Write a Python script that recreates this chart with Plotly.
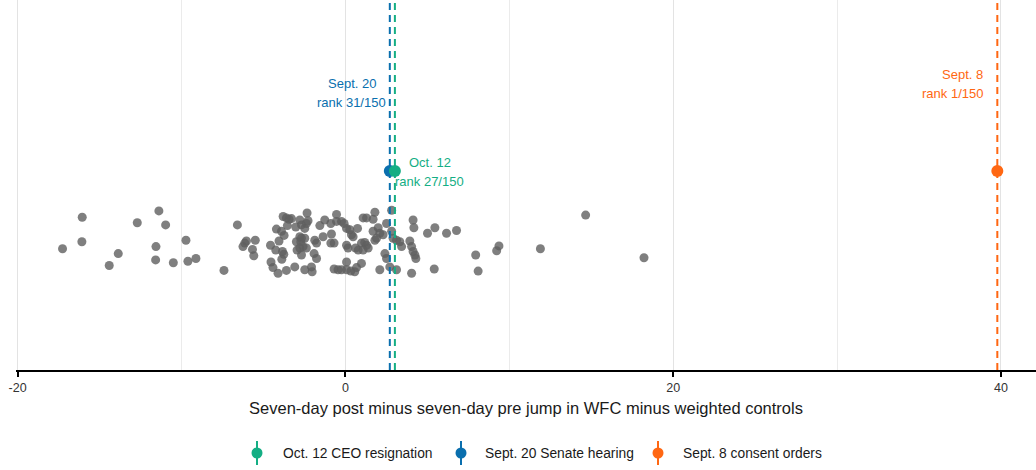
import plotly.graph_objects as go

# Gray events: x = seven-day jump, y = vertical jitter (arbitrary units)
other_x = [-17.26, -16.06, -16.08, -14.41, -13.86, -12.70, -11.38, -10.97, -11.56, -11.58,
           -10.50, -9.73, -9.61, -9.12, -7.41, -6.59, -6.04, -6.14, -6.25, -5.50,
           -5.67, -5.59, -4.57, -4.21, -3.90, -4.25, -4.05, -3.74, -3.80, -3.60,
           -3.44, -3.29, -3.54, -3.84, -3.76, -3.88, -4.54, -4.42, -4.11, -3.60,
           -3.09, -2.99, -2.95, -3.03, -2.34, -2.78, -2.68, -2.48, -2.38, -2.28,
           -2.78, -2.68, -2.72, -2.48, -2.78, -2.58, -2.38, -2.68, -2.48, -2.07,
           -2.03, -1.87, -1.76, -1.91, -1.76, -1.56, -1.26, -0.89, -0.54, -0.54,
           -0.24, -0.08, -1.36, -0.85, -0.89, -0.69, 0.07, 0.16, 0.27, 0.37,
           0.47, 0.74, 0.62, 0.78, 0.98, 1.08, 0.07, -0.69, -0.45, -0.24,
           0.07, 0.33, 0.57, 0.68, 1.29, 1.69, 1.80, 2.51, 2.82, 2.00,
           1.69, 2.10, 2.30, 1.90, 1.80, 2.82, 1.18, 1.29, 1.39, 1.08,
           2.91, 3.12, 3.32, 3.43, 2.41, 2.51, 3.93, 4.04, 4.13, 4.24,
           4.30, 4.13, 4.18, 0.98, 2.10, 3.12, 4.04, 2.71, 5.01, 5.46,
           6.17, 6.78, 7.95, 8.10, 5.42, 9.23, 9.37, 11.90, 14.66, 18.22,
           0.07]
other_y = [-0.11, 0.34, -0.01, -0.35, -0.18, 0.26, 0.43, 0.23, -0.08, -0.27,
           -0.31, 0.01, -0.29, -0.25, -0.42, 0.23, 0.00, -0.03, -0.08, 0.01,
           -0.12, -0.21, -0.06, 0.17, 0.14, -0.13, 0.00, 0.08, 0.35, 0.33,
           0.31, 0.32, 0.22, -0.15, -0.19, -0.26, -0.30, -0.38, -0.46, -0.42,
           -0.37, -0.01, -0.13, 0.20, 0.40, 0.30, 0.23, 0.18, 0.25, 0.29,
           0.06, 0.04, -0.01, 0.04, -0.10, -0.08, -0.10, -0.20, -0.41, -0.37,
           -0.44, 0.01, -0.03, -0.18, -0.25, 0.22, 0.30, 0.25, 0.38, 0.28,
           0.28, 0.25, 0.06, 0.10, -0.03, -0.03, -0.06, -0.10, 0.16, 0.09,
           0.06, 0.18, -0.10, -0.13, -0.03, 0.33, -0.30, -0.40, -0.41, -0.41,
           -0.41, -0.43, -0.44, -0.38, 0.33, 0.31, 0.41, 0.25, 0.44, 0.19,
           0.14, 0.11, 0.09, 0.04, 0.01, 0.14, -0.02, -0.06, -0.10, -0.13,
           0.04, 0.01, -0.01, -0.08, -0.18, -0.25, 0.00, -0.08, -0.15, -0.20,
           -0.25, 0.30, 0.19, -0.32, -0.41, -0.41, -0.46, -0.37, 0.11, 0.19,
           0.11, 0.15, -0.20, -0.43, -0.40, -0.14, -0.07, -0.11, 0.37, -0.24,
           0.18]

# Highlighted events
event_names = ["Oct. 12 CEO resignation", "Sept. 20 Senate hearing", "Sept. 8 consent orders"]
event_short = ["Oct. 12", "Sept. 20", "Sept. 8"]
event_rank = ["rank 27/150", "rank 31/150", "rank 1/150"]
event_x = [3.02, 2.71, 39.78]
event_y = [1.0, 1.0, 1.0]
event_colors = ["#14AE84", "#0A6FAE", "#FF6712"]

tick_vals = [-20, 0, 20, 40]
tick_text = ["-20", "0", "20", "40"]

FONT = "Liberation Sans, Arial, Helvetica, sans-serif"
W, H = 1036, 470
ML, MR, MT, MB = 16, 0, 0, 100
X_RANGE = [-20.1, 42.14]
Y_RANGE = [-1.843, 3.443]

fig = go.Figure()

fig.add_trace(go.Scatter(
    x=other_x, y=other_y, mode="markers",
    marker=dict(size=9, color="rgba(95,95,95,0.8)", line=dict(width=0)),
    showlegend=False, hoverinfo="x"))

# dashed event lines (draw order: orange, green, blue)
for i in [2, 0, 1]:
    fig.add_trace(go.Scatter(
        x=[event_x[i], event_x[i]], y=[Y_RANGE[0], Y_RANGE[1]], mode="lines",
        line=dict(color=event_colors[i], width=2, dash="7px,5px"),
        showlegend=False, hoverinfo="skip"))

for i in [1, 0, 2]:
    fig.add_trace(go.Scatter(
        x=[event_x[i]], y=[event_y[i]], mode="markers",
        marker=dict(size=12, color=event_colors[i]),
        showlegend=False, name=event_names[i]))

# text labels (two lines each, ~19px apart)
LINE_DY = 19 / 70 / 2  # half line spacing in y units (70 px per unit)
label_pos = {
    1: dict(x=0.39, y=2.12, xanchor="center"),
    0: dict(x=5.16, y=0.99, xanchor="center"),
    2: dict(x=39.05, y=2.24, xanchor="right"),
}
for i, p in label_pos.items():
    for txt, dy in [(event_short[i], LINE_DY), (event_rank[i], -LINE_DY)]:
        fig.add_annotation(
            x=p["x"], y=p["y"] + dy, xref="x", yref="y",
            text=txt, showarrow=False, xanchor=p["xanchor"], yanchor="middle",
            font=dict(family=FONT, size=13, color=event_colors[i]))

# manual legend (point + vertical line glyph)
pw = W - ML - MR
ph = H - MT - MB
def px2paper(px, py):
    return (px - ML) / pw, (H - MB - py) / ph

legend_glyph_px = [257, 461, 658]
legend_text_px = [281, 483, 681]
legend_y_px = 453
for i in range(3):
    gx, gy = px2paper(legend_glyph_px[i], legend_y_px)
    _, gy0 = px2paper(0, legend_y_px - 12)
    _, gy1 = px2paper(0, legend_y_px + 12)
    fig.add_shape(type="line", xref="paper", yref="paper",
                  x0=gx, x1=gx, y0=gy0, y1=gy1,
                  line=dict(color=event_colors[i], width=2))
    r = 5.5
    fig.add_shape(type="circle", xref="paper", yref="paper",
                  x0=gx - r / pw, x1=gx + r / pw, y0=gy - r / ph, y1=gy + r / ph,
                  fillcolor=event_colors[i], line=dict(width=0))
    tx, ty = px2paper(legend_text_px[i], legend_y_px)
    fig.add_annotation(x=tx, y=ty, xref="paper", yref="paper",
                       text=event_names[i], showarrow=False,
                       xanchor="left", yanchor="middle",
                       font=dict(family=FONT, size=13.8, color="#1a1a1a"))

fig.update_layout(
    width=W, height=H,
    margin=dict(l=ML, r=MR, t=MT, b=MB),
    paper_bgcolor="white", plot_bgcolor="white",
    font=dict(family=FONT, color="#1a1a1a"),
    xaxis=dict(
        range=X_RANGE, tickvals=tick_vals, ticktext=tick_text,
        showgrid=True, gridcolor="#e3e3e3", gridwidth=1,
        minor=dict(dtick=10, tick0=0, showgrid=True, gridcolor="#ebebeb", gridwidth=1),
        zeroline=False, showline=True, linecolor="black", linewidth=2,
        ticks="outside", ticklen=5, tickwidth=2, tickcolor="black",
        tickfont=dict(family=FONT, size=12.5, color="#333333"),
        title=dict(text="Seven-day post minus seven-day pre jump in WFC minus weighted controls",
                   font=dict(family=FONT, size=16.5, color="#1a1a1a"), standoff=8),
    ),
    yaxis=dict(range=Y_RANGE, visible=False, showgrid=False, zeroline=False),
    showlegend=False,
)

fig.write_html("out.html")
